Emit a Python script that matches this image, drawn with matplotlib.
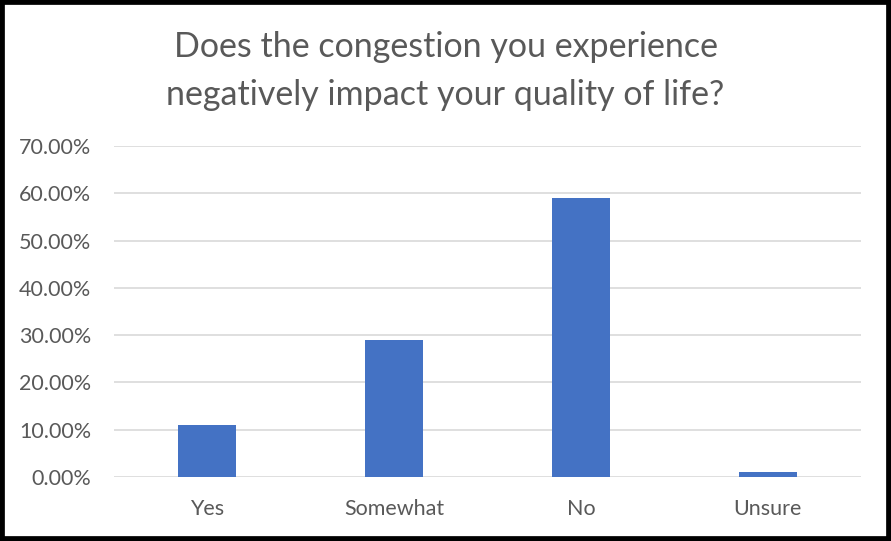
import matplotlib.pyplot as plt
from matplotlib.patches import Rectangle
from matplotlib.ticker import FuncFormatter

# survey answers (share of respondents, %)
answers = ["Yes", "Somewhat", "No", "Unsure"]
shares = [11.1, 28.9, 58.9, 1.1]
y_ticks = [0, 10, 20, 30, 40, 50, 60, 70]

plt.rcParams['font.family'] = ['Lato', 'DejaVu Sans']
grey = "#595959"

fig = plt.figure(figsize=(8.91, 5.41), dpi=100)
ax = fig.add_axes([114 / 891, 1 - 477 / 541, 747 / 891, 331 / 541])

ax.bar(range(len(answers)), shares, width=0.31, color="#4472C4", zorder=3)

ax.set_xlim(-0.5, len(answers) - 0.5)
ax.set_ylim(0, 70)
ax.set_yticks(y_ticks)
ax.yaxis.set_major_formatter(FuncFormatter(lambda v, _: f"{v:.2f}%"))
ax.set_xticks(range(len(answers)))
ax.set_xticklabels(answers)

ax.grid(axis="y", color="#D9D9D9", linewidth=1.2, zorder=0)
for side in ["top", "right", "left", "bottom"]:
    ax.spines[side].set_visible(False)
ax.tick_params(axis="both", length=0, colors=grey, labelsize=15.5)
ax.tick_params(axis="y", pad=16.5)
ax.tick_params(axis="x", pad=16)

fig.text(0.5, 1 - 71 / 541, "Does the congestion you experience\nnegatively impact your quality of life?",
         ha="center", va="center", fontsize=24.5, color=grey, linespacing=1.65)

# black frame round the whole chart
fig.patches.append(Rectangle((0, 0), 1, 1, transform=fig.transFigure, fill=False,
                             edgecolor="black", linewidth=7))

fig.savefig("out.png", dpi=100)
